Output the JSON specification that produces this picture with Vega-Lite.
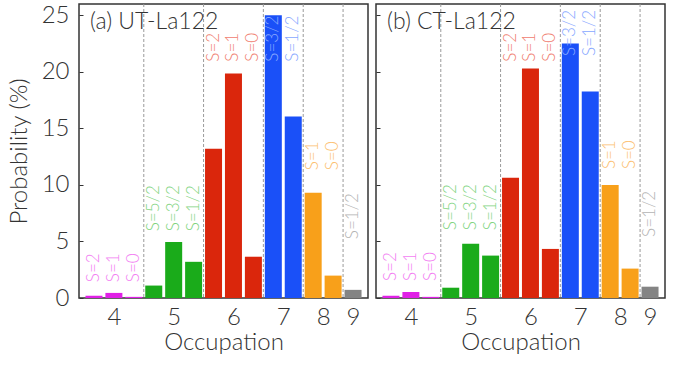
{
  "$schema": "https://vega.github.io/schema/vega-lite/v6.json",
  "padding": {"left": 6, "top": 2, "right": 5, "bottom": 5},
  "background": "white",
  "datasets": {
    "bars": [
      {"panel": "a", "occ": "4", "S": "S=2", "pos": 0.5, "v": 0.2, "lab": 1.4},
      {"panel": "a", "occ": "4", "S": "S=1", "pos": 1.5, "v": 0.45, "lab": 1.4},
      {"panel": "a", "occ": "4", "S": "S=0", "pos": 2.5, "v": 0.1, "lab": 1.4},
      {"panel": "a", "occ": "5", "S": "S=5/2", "pos": 3.5, "v": 1.1, "lab": 5.9},
      {"panel": "a", "occ": "5", "S": "S=3/2", "pos": 4.5, "v": 4.95, "lab": 5.9},
      {"panel": "a", "occ": "5", "S": "S=1/2", "pos": 5.5, "v": 3.2, "lab": 5.9},
      {"panel": "a", "occ": "6", "S": "S=2", "pos": 6.5, "v": 13.2, "lab": 20.9},
      {"panel": "a", "occ": "6", "S": "S=1", "pos": 7.5, "v": 19.85, "lab": 20.9},
      {"panel": "a", "occ": "6", "S": "S=0", "pos": 8.5, "v": 3.65, "lab": 20.9},
      {"panel": "a", "occ": "7", "S": "S=3/2", "pos": 9.5, "v": 25.0, "lab": 20.9},
      {"panel": "a", "occ": "7", "S": "S=1/2", "pos": 10.5, "v": 16.05, "lab": 20.9},
      {"panel": "a", "occ": "8", "S": "S=1", "pos": 11.5, "v": 9.3, "lab": 11.3},
      {"panel": "a", "occ": "8", "S": "S=0", "pos": 12.5, "v": 1.98, "lab": 11.3},
      {"panel": "a", "occ": "9", "S": "S=1/2", "pos": 13.5, "v": 0.72, "lab": 5.2},
      {"panel": "b", "occ": "4", "S": "S=2", "pos": 0.5, "v": 0.2, "lab": 1.5},
      {"panel": "b", "occ": "4", "S": "S=1", "pos": 1.5, "v": 0.53, "lab": 1.5},
      {"panel": "b", "occ": "4", "S": "S=0", "pos": 2.5, "v": 0.1, "lab": 1.5},
      {"panel": "b", "occ": "5", "S": "S=5/2", "pos": 3.5, "v": 0.91, "lab": 6.0},
      {"panel": "b", "occ": "5", "S": "S=3/2", "pos": 4.5, "v": 4.79, "lab": 6.0},
      {"panel": "b", "occ": "5", "S": "S=1/2", "pos": 5.5, "v": 3.75, "lab": 6.0},
      {"panel": "b", "occ": "6", "S": "S=2", "pos": 6.5, "v": 10.64, "lab": 20.9},
      {"panel": "b", "occ": "6", "S": "S=1", "pos": 7.5, "v": 20.3, "lab": 20.9},
      {"panel": "b", "occ": "6", "S": "S=0", "pos": 8.5, "v": 4.34, "lab": 20.9},
      {"panel": "b", "occ": "7", "S": "S=3/2", "pos": 9.5, "v": 22.5, "lab": 21.4},
      {"panel": "b", "occ": "7", "S": "S=1/2", "pos": 10.5, "v": 18.26, "lab": 21.4},
      {"panel": "b", "occ": "8", "S": "S=1", "pos": 11.5, "v": 10.0, "lab": 11.4},
      {"panel": "b", "occ": "8", "S": "S=0", "pos": 12.5, "v": 2.6, "lab": 11.4},
      {"panel": "b", "occ": "9", "S": "S=1/2", "pos": 13.5, "v": 1.0, "lab": 5.4}
    ],
    "dividers": [{"b": 3}, {"b": 6}, {"b": 9}, {"b": 11}, {"b": 13}],
    "titles": [{"panel": "a", "t": "(a) UT-La122"}, {"panel": "b", "t": "(b) CT-La122"}]
  },
  "spacing": 5,
  "hconcat": [
    {
      "width": 289,
      "height": 294,
      "layer": [
        {
          "data": {"name": "dividers"},
          "mark": {"type": "rule", "color": "#9a9a9a", "strokeDash": [3, 2], "strokeWidth": 1},
          "encoding": {"x": {"field": "b", "type": "quantitative"}}
        },
        {
          "data": {"name": "bars"},
          "transform": [{"filter": "datum.panel == 'a'"}],
          "mark": {"type": "bar", "width": 17, "cornerRadius": 0},
          "encoding": {
            "x": {"field": "pos", "type": "quantitative"},
            "y": {"field": "v", "type": "quantitative"},
            "color": {"field": "occ", "type": "nominal", "legend": null,
              "scale": {"domain": ["4","5","6","7","8","9"], "range": ["#e020e6","#1aab1a","#da260c","#1a50f8","#f8a01a","#848484"]}}
          }
        },
        {
          "data": {"name": "bars"},
          "transform": [{"filter": "datum.panel == 'a'"}],
          "mark": {"type": "text", "angle": 270, "align": "left", "baseline": "middle", "fontSize": 17, "fontWeight": 300},
          "encoding": {
            "x": {"field": "pos", "type": "quantitative"},
            "y": {"field": "lab", "type": "quantitative"},
            "text": {"field": "S"},
            "color": {"field": "occ", "type": "nominal", "legend": null,
              "scale": {"domain": ["4","5","6","7","8","9"], "range": ["#f27ef2","#7fd47f","#f08070","#88a8ff","#fcc070","#b4b4b4"]}}
          }
        },
        {
          "data": {"name": "titles"},
          "transform": [{"filter": "datum.panel == 'a'"}],
          "mark": {"type": "text", "align": "left", "baseline": "top", "fontSize": 23, "fontWeight": 300, "color": "#333"},
          "encoding": {
            "x": {"datum": 0.3, "type": "quantitative"},
            "y": {"datum": 25.4, "type": "quantitative"},
            "text": {"field": "t"}
          }
        }
      ],
      "encoding": {
        "x": {"type": "quantitative",
          "scale": {"domain": [0, 14], "nice": false, "zero": false},
          "axis": {"title": "Occupation", "values": [1.5, 4.5, 7.5, 10, 12, 13.5],
            "labelExpr": "datum.value == 1.5 ? '4' : datum.value == 4.5 ? '5' : datum.value == 7.5 ? '6' : datum.value == 10 ? '7' : datum.value == 12 ? '8' : '9'",
            "ticks": false, "domain": false, "grid": false, "labelPadding": 7, "titlePadding": 1}},
        "y": {"type": "quantitative",
          "scale": {"domain": [0, 26], "nice": false},
          "axis": {"title": "Probability (%)", "values": [0, 5, 10, 15, 20, 25], "grid": false, "domain": false,
            "tickSize": -4, "labelPadding": 14, "titlePadding": 10}}
      },
      "resolve": {"scale": {"color": "independent"}}
    },
    {
      "width": 289,
      "height": 294,
      "layer": [
        {
          "data": {"name": "dividers"},
          "mark": {"type": "rule", "color": "#9a9a9a", "strokeDash": [3, 2], "strokeWidth": 1},
          "encoding": {"x": {"field": "b", "type": "quantitative"}}
        },
        {
          "data": {"name": "bars"},
          "transform": [{"filter": "datum.panel == 'b'"}],
          "mark": {"type": "bar", "width": 17, "cornerRadius": 0},
          "encoding": {
            "x": {"field": "pos", "type": "quantitative"},
            "y": {"field": "v", "type": "quantitative"},
            "color": {"field": "occ", "type": "nominal", "legend": null,
              "scale": {"domain": ["4","5","6","7","8","9"], "range": ["#e020e6","#1aab1a","#da260c","#1a50f8","#f8a01a","#848484"]}}
          }
        },
        {
          "data": {"name": "bars"},
          "transform": [{"filter": "datum.panel == 'b'"}],
          "mark": {"type": "text", "angle": 270, "align": "left", "baseline": "middle", "fontSize": 17, "fontWeight": 300},
          "encoding": {
            "x": {"field": "pos", "type": "quantitative"},
            "y": {"field": "lab", "type": "quantitative"},
            "text": {"field": "S"},
            "color": {"field": "occ", "type": "nominal", "legend": null,
              "scale": {"domain": ["4","5","6","7","8","9"], "range": ["#f27ef2","#7fd47f","#f08070","#88a8ff","#fcc070","#b4b4b4"]}}
          }
        },
        {
          "data": {"name": "titles"},
          "transform": [{"filter": "datum.panel == 'b'"}],
          "mark": {"type": "text", "align": "left", "baseline": "top", "fontSize": 23, "fontWeight": 300, "color": "#333"},
          "encoding": {
            "x": {"datum": 0.3, "type": "quantitative"},
            "y": {"datum": 25.4, "type": "quantitative"},
            "text": {"field": "t"}
          }
        }
      ],
      "encoding": {
        "x": {"type": "quantitative",
          "scale": {"domain": [0, 14], "nice": false, "zero": false},
          "axis": {"title": "Occupation", "values": [1.5, 4.5, 7.5, 10, 12, 13.5],
            "labelExpr": "datum.value == 1.5 ? '4' : datum.value == 4.5 ? '5' : datum.value == 7.5 ? '6' : datum.value == 10 ? '7' : datum.value == 12 ? '8' : '9'",
            "ticks": false, "domain": false, "grid": false, "labelPadding": 7, "titlePadding": 1}},
        "y": {"type": "quantitative",
          "scale": {"domain": [0, 26], "nice": false},
          "axis": {"title": null, "labels": false, "values": [0, 5, 10, 15, 20, 25], "grid": false, "domain": false,
            "tickSize": -4}}
      },
      "resolve": {"scale": {"color": "independent"}}
    }
  ],
  "config": {
    "font": "Lato",
    "view": {"stroke": "#333", "strokeWidth": 1.5},
    "axis": {"labelFont": "Lato", "titleFont": "Lato", "labelFontSize": 24, "titleFontSize": 24,
      "labelFontWeight": 300, "titleFontWeight": 300, "labelColor": "#333", "titleColor": "#333", "tickColor": "#333", "tickWidth": 1},
    "text": {"font": "Lato"}
  }
}
